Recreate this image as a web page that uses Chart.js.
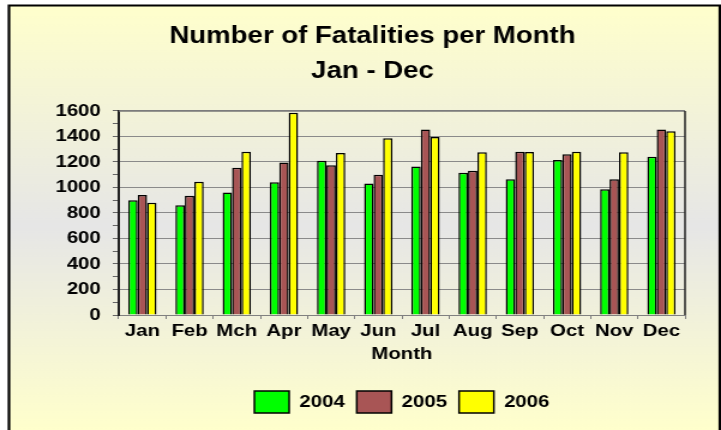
<!DOCTYPE html>
<html><head><meta charset="utf-8">
<script src="https://cdn.jsdelivr.net/npm/chart.js@4.4.1/dist/chart.umd.min.js"></script>
<style>
html,body{margin:0;padding:0;background:#fff;overflow:hidden;width:721px;height:430px;}
#c{display:block;transform:scaleX(1.19967);transform-origin:0 0;}
</style></head><body>
<canvas id="c" width="601" height="430"></canvas>
<script>
const months = ['Jan','Feb','Mch','Apr','May','Jun','Jul','Aug','Sep','Oct','Nov','Dec'];
const fatal2004 = [900, 860, 960, 1040, 1210, 1030, 1165, 1115, 1065, 1215, 985, 1240];
const fatal2005 = [940, 935, 1155, 1195, 1175, 1100, 1455, 1130, 1280, 1260, 1065, 1455];
const fatal2006 = [880, 1045, 1280, 1585, 1270, 1385, 1395, 1275, 1278, 1280, 1275, 1440];
const seriesNames = ['2004','2005','2006'];
const titleLines = ['Number of Fatalities per Month','Jan - Dec'];
const xTitle = 'Month';

const FONT = "'Liberation Sans', Arial, sans-serif";

const framePlugin = {
  id: 'frame',
  beforeDraw(chart) {
    const ctx = chart.ctx, W = chart.width, H = chart.height;
    ctx.save();
    ctx.fillStyle = '#ffffff';
    ctx.fillRect(0, 0, W, H);
    const g = ctx.createLinearGradient(0, 5, 0, H);
    g.addColorStop(0, '#FFFFCC');
    g.addColorStop(0.52, '#E6E6E6');
    g.addColorStop(1, '#FFFFCC');
    ctx.fillStyle = g;
    ctx.fillRect(7.5, 5, W - 7.5, H - 5);
    ctx.restore();
  },
  afterDatasetsDraw(chart) {
    const ctx = chart.ctx, a = chart.chartArea;
    ctx.save();
    ctx.lineWidth = 1.5;
    ctx.strokeStyle = '#777777';
    ctx.beginPath();
    ctx.moveTo(a.left, a.top); ctx.lineTo(a.right, a.top);
    ctx.stroke();
    ctx.strokeStyle = '#222222';
    ctx.beginPath();
    ctx.moveTo(a.right, a.top); ctx.lineTo(a.right, a.bottom);
    ctx.stroke();
    ctx.restore();
  },
  afterDraw(chart) {
    const ctx = chart.ctx, W = chart.width, H = chart.height;
    ctx.save();
    ctx.strokeStyle = '#000000';
    ctx.lineWidth = 2.2;
    ctx.beginPath();
    ctx.moveTo(7.5, H); ctx.lineTo(7.5, 5.5); ctx.lineTo(W - 1, 5.5); ctx.lineTo(W - 1, H);
    ctx.stroke();
    ctx.restore();
  }
};

const colors = ['#00FF00', '#A85555', '#FFFF00'];
const values = [fatal2004, fatal2005, fatal2006];

new Chart(document.getElementById('c'), {
  type: 'bar',
  data: {
    labels: months,
    datasets: seriesNames.map((n, i) => ({
      label: n,
      data: values[i],
      backgroundColor: colors[i],
      borderColor: '#000000',
      borderWidth: 1.5,
      barPercentage: 1.0,
      categoryPercentage: 0.6,
      yAxisID: 'y'
    }))
  },
  plugins: [framePlugin],
  options: {
    responsive: false,
    animation: false,
    devicePixelRatio: 1,
    layout: { padding: { left: 20, right: 0, top: 0, bottom: 7 } },
    plugins: {
      title: {
        display: true,
        text: titleLines,
        color: '#000',
        font: { family: FONT, size: 23, weight: 'bold', lineHeight: 1.52 },
        padding: { top: 19, bottom: 22 }
      },
      legend: {
        position: 'bottom',
        fullSize: false,
        labels: {
          boxWidth: 29, boxHeight: 22, padding: 10, color: '#000',
          font: { family: FONT, size: 17, weight: 'bold' }
        }
      },
      tooltip: { enabled: false }
    },
    scales: {
      x: {
        grid: { display: true, drawOnChartArea: false, offset: true, color: '#808080', tickLength: 4 },
        border: { color: '#808080', width: 1 },
        ticks: { color: '#000', padding: 2, maxRotation: 0, autoSkip: false,
                 font: { family: FONT, size: 17, weight: 'bold' } },
        title: { display: true, text: xTitle, color: '#000',
                 font: { family: FONT, size: 17, weight: 'bold' }, padding: { top: 0, bottom: 16 } },
        afterFit(s) { s.height = 66; }
      },
      y: {
        position: 'left',
        min: 0, max: 1600,
        ticks: { stepSize: 100, autoSkip: false, color: '#000', padding: 10,
                 font: { family: FONT, size: 17, weight: 'bold' },
                 callback: v => (v % 200 === 0 ? String(v) : '') },
        grid: { color: c => (c.tick && c.tick.value % 200 === 0 ? '#8a8a8a' : 'rgba(0,0,0,0)'),
                tickColor: '#666', tickLength: 5 },
        border: { color: '#222', width: 2 },
        afterFit(s) { s.width = 79; }
      },
      yR: {
        position: 'right',
        min: 0, max: 1600,
        ticks: { display: false },
        grid: { display: false },
        border: { display: false },
        afterFit(s) { s.width = 30; }
      }
    }
  }
});
</script>
</body></html>
